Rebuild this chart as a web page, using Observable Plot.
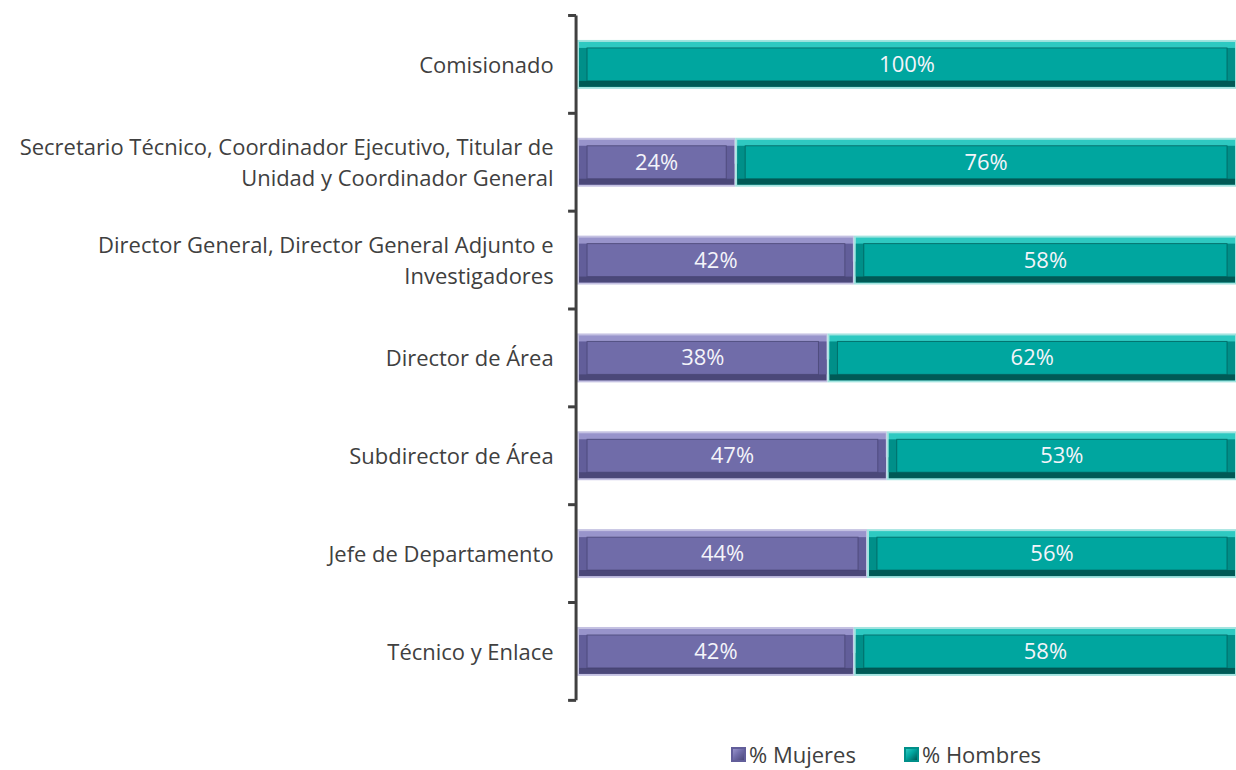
<!DOCTYPE html>
<html>
<head>
<meta charset="utf-8">
<script src="https://cdn.jsdelivr.net/npm/d3@7"></script>
<script src="https://cdn.jsdelivr.net/npm/@observablehq/plot@0.6"></script>
<style>
  html, body { margin: 0; padding: 0; background: #fff; overflow: hidden; }
  #wrap { position: relative; width: 1236px; height: 770px; font-family: "Open Sans", sans-serif; }
  #legend { position: absolute; left: 0; top: 739px; width: 1236px; height: 32px; font-size: 22px; color: #404040; }
  .item { position: absolute; display: flex; align-items: center; gap: 3px; white-space: nowrap; }
  .sw { width: 15px; height: 15px; display: inline-block; box-sizing: border-box; }
</style>
</head>
<body>
<div id="wrap">
  <div id="chart"></div>
  <div id="legend"></div>
</div>
<script>
const categories = [
  "Comisionado",
  "Secretario Técnico, Coordinador Ejecutivo, Titular de\nUnidad y Coordinador General",
  "Director General, Director General Adjunto e\nInvestigadores",
  "Director de Área",
  "Subdirector de Área",
  "Jefe de Departamento",
  "Técnico y Enlace"
];
const mujeres = [0, 24, 42, 38, 47, 44, 42];
const hombres = [100, 76, 58, 62, 53, 56, 58];
const series = ["% Mujeres", "% Hombres"];

const palette = {
  "% Mujeres": {edge: "#c4c1e2", top: "#9894cb", bottom: "#4b4879", side: "#625e9a", face: "#706ca9", line: "#3f3c68"},
  "% Hombres": {edge: "#a3e4e0", top: "#2ec9c1", bottom: "#005a56", side: "#008f89", face: "#00a69f", line: "#00504c"}
};

const data = [];
categories.forEach((c, i) => {
  data.push({cat: c, serie: series[0], value: mujeres[i]});
  data.push({cat: c, serie: series[1], value: hombres[i]});
});

const col = key => d => palette[d.serie][key];
const bar = (key, opts) => Plot.barX(data, Plot.stackX({
  x: "value", y: "cat", z: "serie", order: series, fill: col(key), ...opts
}));

const axisMark = (index, scales, values, dims) => {
  const g = d3.create("svg:g");
  const y = scales.y;
  const x0 = scales.x(0);
  const step = y.step();
  const top = y(categories[0]) - (step - y.bandwidth()) / 2;
  const bounds = d3.range(categories.length + 1).map(i => top + i * step);
  g.append("line").attr("x1", x0 - 1).attr("x2", x0 - 1)
    .attr("y1", bounds[0]).attr("y2", bounds[bounds.length - 1])
    .attr("stroke", "#404040").attr("stroke-width", 3);
  bounds.forEach(b => g.append("line").attr("x1", x0 - 9).attr("x2", x0 - 1)
    .attr("y1", b).attr("y2", b).attr("stroke", "#404040").attr("stroke-width", 3));
  return g.node();
};

const chart = Plot.plot({
  width: 1238,
  height: 720,
  marginLeft: 578,
  marginRight: 0,
  marginTop: 15,
  marginBottom: 18,
  style: {fontFamily: "'Open Sans', sans-serif", background: "white"},
  x: {domain: [0, 100], axis: null},
  y: {domain: categories, paddingInner: 0.5, paddingOuter: 0.25, axis: null},
  marks: [
    bar("edge", {}),
    bar("top", {insetTop: 2, insetBottom: 2, insetLeft: 2, insetRight: 1}),
    bar("bottom", {insetTop: 26, insetBottom: 2, insetLeft: 2, insetRight: 1}),
    bar("side", {insetTop: 8, insetBottom: 8, insetLeft: 2, insetRight: 1}),
    bar("face", {insetTop: 8, insetBottom: 8, insetLeft: 10, insetRight: 9, stroke: col("line"), strokeWidth: 1, strokeOpacity: 0.6}),
    Plot.text(data.filter(d => d.value > 0), Plot.stackX({
      x: "value", y: "cat", z: "serie", order: series,
      text: d => d.value + "%", fill: "#f4f4fa", fontSize: 22
    })),
    Plot.text(categories, {
      x: 0, y: d => d, text: d => d, textAnchor: "end", dx: -24, dy: -2,
      fontSize: 22, fill: "#404040", lineHeight: 1.41
    }),
    axisMark
  ]
});
document.getElementById("chart").appendChild(chart);

const legend = document.getElementById("legend");
const legendLeft = [731, 904];
series.forEach((s, i) => {
  const p = palette[s];
  const item = document.createElement("div");
  item.className = "item";
  item.style.left = legendLeft[i] + "px";
  const sw = document.createElement("span");
  sw.className = "sw";
  sw.style.background = `linear-gradient(135deg, ${p.top} 0%, ${p.face} 45%, ${p.bottom} 100%)`;
  sw.style.border = `2px solid ${p.side}`;
  const t = document.createElement("span");
  t.textContent = s;
  item.appendChild(sw);
  item.appendChild(t);
  legend.appendChild(item);
});
</script>
</body>
</html>
